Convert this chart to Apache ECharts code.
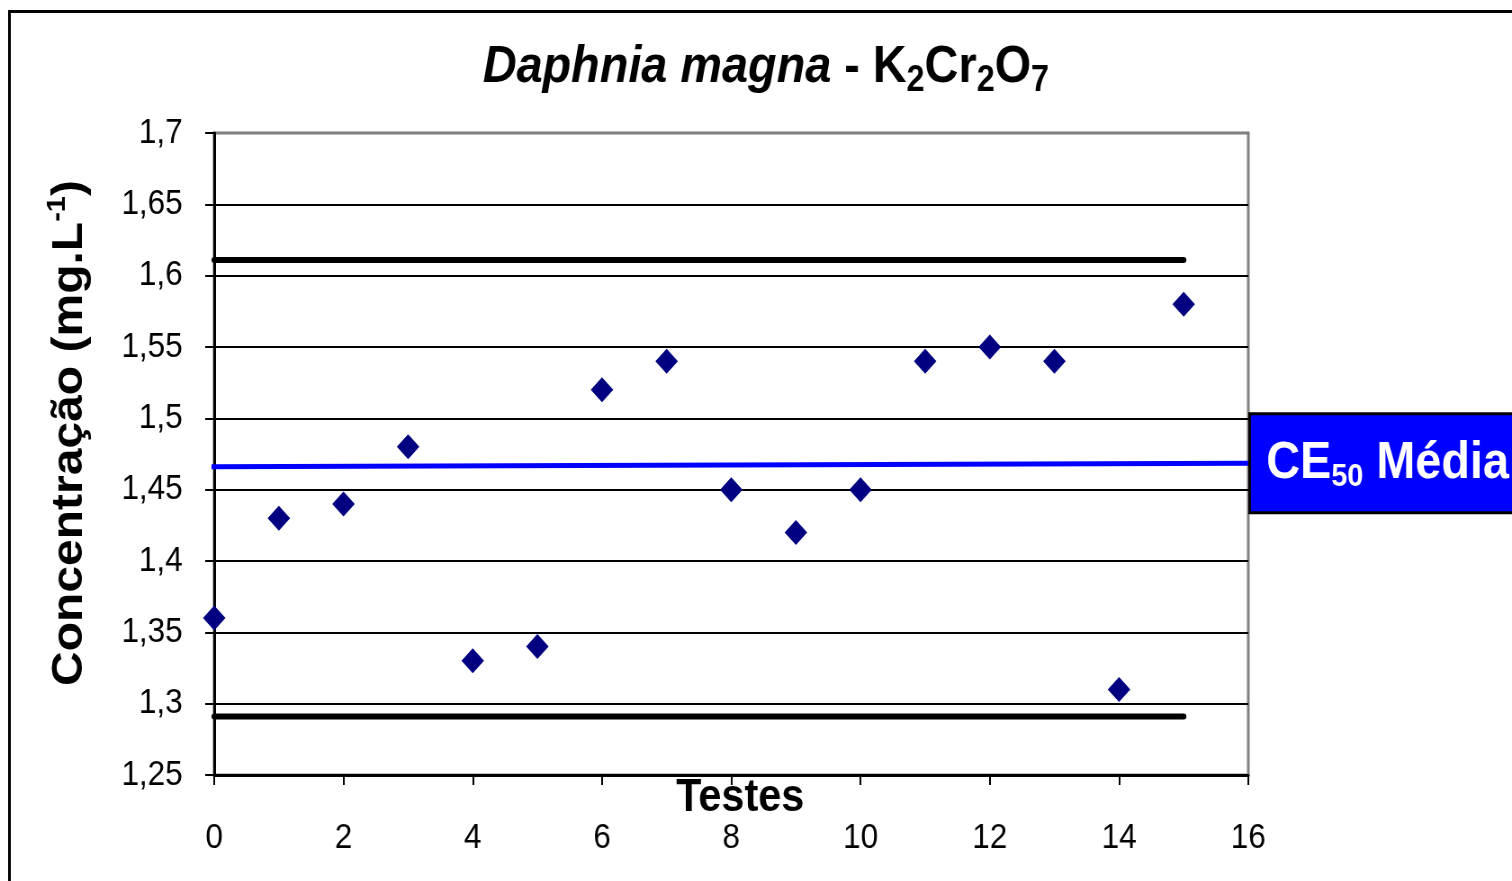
<!DOCTYPE html>
<html>
<head>
<meta charset="utf-8">
<title>Daphnia magna - K2Cr2O7</title>
<script src="https://cdn.jsdelivr.net/npm/echarts@6/dist/echarts.min.js"></script>
<style>
  html, body { margin: 0; padding: 0; background: #fff; }
  #wrap { width: 1512px; height: 881px; overflow: hidden; position: relative; }
  /* o gráfico original é levemente comprimido na horizontal */
  #main { width: 1680px; height: 881px; transform: scaleX(0.9); transform-origin: 0 0; }
</style>
</head>
<body>
<div id="wrap"><div id="main"></div></div>
<script>
// dados
var testes = [0, 1, 2, 3, 4, 5, 6, 7, 8, 9, 10, 11, 12, 13, 14, 15];
var ce50 = [1.36, 1.43, 1.44, 1.48, 1.33, 1.34, 1.52, 1.54, 1.45, 1.42, 1.45, 1.54, 1.55, 1.54, 1.31, 1.58];
var limiteX = [0, 15];
var limiteSup = [1.611, 1.611];
var limiteInf = [1.291, 1.291];
var mediaX = [-0.3, 16];
var mediaY = [1.4661, 1.4685];

var xMin = 0, xMax = 16, xStep = 2;
var yMin = 1.25, yMax = 1.7, yStep = 0.05;

function pares(xs, ys) {
  return xs.map(function (x, i) { return [x, ys[i]]; });
}

var fonte = 'Liberation Sans, Arial, sans-serif';

// linhas de grade: a última (1,7) é cinza como a borda da área
var nLinhas = Math.round((yMax - yMin) / yStep) + 1;
var coresGrade = [];
for (var k = 0; k < nLinhas; k++) coresGrade.push(k === nLinhas - 1 ? '#808080' : '#000');

var myChart = echarts.init(document.getElementById('main'));

var option = {
  animation: false,
  textStyle: { fontFamily: fonte },
  title: {
    text: '{i|Daphnia magna}{n| - K}{s|2}{n|Cr}{s|2}{n|O}{s|7}',
    left: 851,
    top: 37,
    textAlign: 'center',
    padding: 0,
    textStyle: {
      rich: {
        i: { fontFamily: fonte, fontSize: 52, fontWeight: 'bold', fontStyle: 'italic', color: '#000', lineHeight: 62 },
        n: { fontFamily: fonte, fontSize: 52, fontWeight: 'bold', color: '#000', lineHeight: 62 },
        s: { fontFamily: fonte, fontSize: 36, fontWeight: 'bold', color: '#000', lineHeight: 34, verticalAlign: 'bottom' }
      }
    }
  },
  graphic: [{
    type: 'rect',
    shape: { x: 10.5, y: 11.5, width: 3000, height: 3000 },
    style: { fill: null, stroke: '#000', lineWidth: 3 },
    z: 100,
    silent: true
  }],
  grid: {
    left: 238,
    top: 133,
    width: 1149,
    height: 642,
    show: true,
    borderColor: '#808080',
    borderWidth: 3,
    backgroundColor: '#fff'
  },
  xAxis: {
    type: 'value',
    min: xMin,
    max: xMax,
    interval: xStep,
    name: 'Testes',
    nameLocation: 'middle',
    nameGap: 0,
    nameMoveOverlap: false,
    nameTextStyle: {
      fontFamily: fonte, fontSize: 46, fontWeight: 'bold', color: '#000',
      lineHeight: 46, padding: [0, 0, 0, 20]
    },
    axisLine: { show: true, onZero: false, lineStyle: { color: '#000', width: 3 } },
    axisTick: { show: true, inside: false, length: 10, lineStyle: { color: '#000', width: 2 } },
    axisLabel: { fontFamily: fonte, fontSize: 35, color: '#000', margin: 46 },
    splitLine: { show: false }
  },
  yAxis: {
    type: 'value',
    min: yMin,
    max: yMax,
    interval: yStep,
    name: '{b|Concentração (mg.L}{e|-1}{b|)}',
    nameLocation: 'middle',
    nameGap: 131,
    nameMoveOverlap: false,
    nameTextStyle: {
      padding: [0, 0, 0, 42],
      rich: {
        b: { fontFamily: fonte, fontSize: 48, fontWeight: 'bold', color: '#000', lineHeight: 58 },
        e: { fontFamily: fonte, fontSize: 29, fontWeight: 'bold', color: '#000', lineHeight: 37, verticalAlign: 'top' }
      }
    },
    axisLine: { show: true, onZero: false, lineStyle: { color: '#000', width: 3 } },
    axisTick: { show: true, inside: false, length: 10, lineStyle: { color: '#000', width: 2 } },
    axisLabel: {
      fontFamily: fonte, fontSize: 35, color: '#000', margin: 35,
      formatter: function (v) { return String(+v.toFixed(2)).replace('.', ','); }
    },
    splitLine: { show: true, lineStyle: { color: coresGrade, width: 2 } }
  },
  series: [
    {
      name: 'Limite superior',
      type: 'line',
      data: pares(limiteX, limiteSup),
      symbol: 'none',
      silent: true,
      clip: false,
      lineStyle: { color: '#000', width: 6, cap: 'round' },
      z: 3
    },
    {
      name: 'Limite inferior',
      type: 'line',
      data: pares(limiteX, limiteInf),
      symbol: 'none',
      silent: true,
      clip: false,
      lineStyle: { color: '#000', width: 6, cap: 'round' },
      z: 3
    },
    {
      name: 'CE50 Média',
      type: 'line',
      data: pares(mediaX, mediaY),
      symbol: 'none',
      silent: true,
      clip: false,
      lineStyle: { color: '#0000ff', width: 5 },
      z: 4,
      endLabel: {
        show: true,
        distance: 3,
        formatter: '{b|CE}{s|50}{b| Média}',
        backgroundColor: '#0000ff',
        borderColor: '#000',
        borderWidth: 3,
        padding: [18, 40, 18, 17],
        rich: {
          b: { fontFamily: fonte, fontSize: 52, fontWeight: 'bold', color: '#fff', lineHeight: 60 },
          s: { fontFamily: fonte, fontSize: 32, fontWeight: 'bold', color: '#fff', lineHeight: 26, verticalAlign: 'bottom' }
        }
      }
    },
    {
      name: 'CE50',
      type: 'scatter',
      data: pares(testes, ce50),
      symbol: 'diamond',
      symbolSize: [25, 25],
      itemStyle: { color: '#000080', opacity: 1 },
      z: 5
    }
  ]
};

myChart.setOption(option);
</script>
</body>
</html>
